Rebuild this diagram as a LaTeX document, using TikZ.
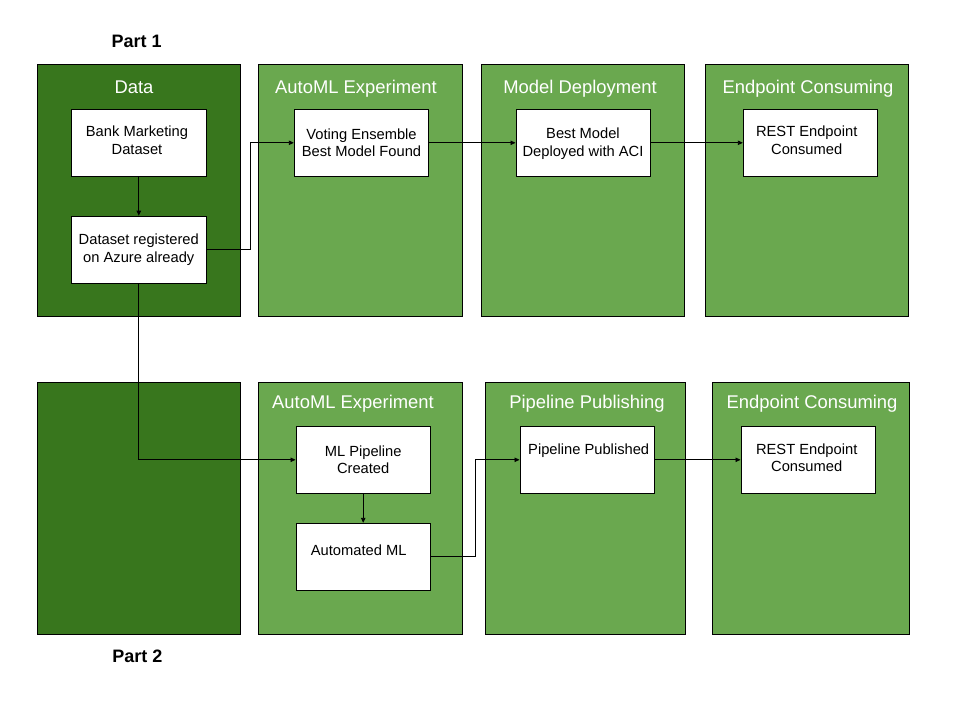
\documentclass[tikz,border=0pt]{standalone}
\usepackage{fontspec}
\setmainfont{Liberation Sans}
\usetikzlibrary{arrows.meta}
\definecolor{darkg}{HTML}{38761D}
\definecolor{lightg}{HTML}{6AA84F}
\tikzset{
  panel/.style={draw=black, line width=1pt, inner sep=0pt, minimum height=251.7pt},
  pdark/.style={panel, fill=darkg},
  plight/.style={panel, fill=lightg},
  ptitle/.style={text=white, font=\fontsize{18.4}{22}\selectfont, anchor=base, inner sep=0pt},
  wbox/.style={draw=black, fill=white, line width=1pt, inner sep=0pt, minimum width=134.4pt, minimum height=67pt, align=center, font=\fontsize{14.7}{17.5}\selectfont},
  btext/.style={font=\fontsize{14.7}{17.5}\selectfont, anchor=base, inner sep=0pt},
  parttitle/.style={font=\bfseries\fontsize{18}{21.6}\selectfont, anchor=base, inner sep=0pt},
  arr/.style={draw=black, line width=0.9pt, -{Triangle[length=5pt,width=4.5pt]}},
}
\begin{document}
\begin{tikzpicture}[x=1pt, y=-1pt]
\useasboundingbox[fill=white] (0,0) rectangle (960,720);
% panels top
\node[pdark, minimum width=203.4pt] (p1) at (139,190.2) {};
\node[plight, minimum width=204pt] (p2) at (360.3,190.2) {};
\node[plight, minimum width=203.3pt] (p3) at (583.3,190.2) {};
\node[plight, minimum width=203.3pt] (p4) at (807.3,190.2) {};
% panels bottom
\node[pdark, minimum width=203.4pt] (q1) at (139,508.2) {};
\node[plight, minimum width=204pt] (q2) at (360.3,508.2) {};
\node[plight, minimum width=200pt] (q3) at (585,508.2) {};
\node[plight, minimum width=196.7pt] (q4) at (810.7,508.2) {};
% titles
\node[parttitle] (part1) at (136.7,47.5) {Part 1};
\node[parttitle] (part2) at (137.3,662) {Part 2};
\node[ptitle] (t1) at (134,93) {Data};
\node[ptitle] (t2) at (356,93) {AutoML Experiment};
\node[ptitle] (t3) at (580,93) {Model Deployment};
\node[ptitle] (t4) at (808,93) {Endpoint Consuming};
\node[ptitle] (t6) at (353,408) {AutoML Experiment};
\node[ptitle] (t7) at (587,408) {Pipeline Publishing};
\node[ptitle] (t8) at (812,408) {Endpoint Consuming};
% boxes
\node[wbox] (bank) at (138.8,142.7) {};
\node[btext, align=center, anchor=north] (bankt) at (137,126) {Bank Marketing\\Dataset};
\node[wbox] (reg) at (138.8,249.7) {Dataset registered\\on Azure already};
\node[wbox] (vote) at (361.5,142.8) {Voting Ensemble\\Best Model Found};
\node[wbox] (best) at (583.2,142.8) {};
\node[btext, align=center, anchor=north] (bestt) at (583,128) {Best Model\\Deployed with ACI};
\node[wbox] (rest1) at (810.5,142.8) {};
\node[btext, align=center, anchor=north] (rest1t) at (806.7,126) {REST Endpoint\\Consumed};
\node[wbox] (mlp) at (363.2,459.8) {ML Pipeline\\Created};
\node[wbox] (auto) at (363.2,556.8) {};
\node[btext] (autot) at (358.7,555.6) {Automated ML};
\node[wbox] (pub) at (587.2,459.8) {};
\node[btext] (pubt) at (588.7,454.3) {Pipeline Published};
\node[wbox] (rest2) at (808.2,459.8) {};
\node[btext, align=center, anchor=north] (rest2t) at (806.7,443.5) {REST Endpoint\\Consumed};
% connectors
\draw[arr] (bank) -- (reg);
\draw[arr] (reg.east) -- ++(44,0) |- (vote.west);
\draw[arr] (vote) -- (best);
\draw[arr] (best) -- (rest1);
\draw[arr] (reg.south) |- (mlp.west);
\draw[arr] (mlp) -- (auto);
\draw[arr] (auto.east) -- ++(45,0) |- (pub.west);
\draw[arr] (pub) -- (rest2);
\end{tikzpicture}
\end{document}
